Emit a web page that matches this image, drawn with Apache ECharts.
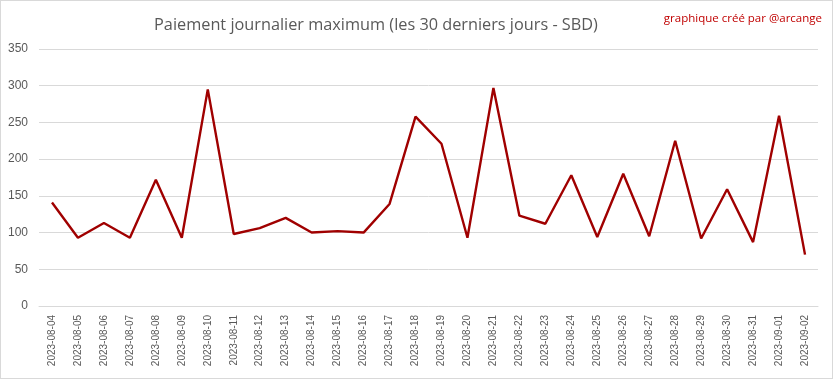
<!DOCTYPE html>
<html>
<head>
<meta charset="utf-8">
<script src="https://cdn.jsdelivr.net/npm/echarts@6/dist/echarts.min.js"></script>
<style>
html,body{margin:0;padding:0;background:#fff;}
#frame{position:absolute;left:0;top:0;width:831px;height:377px;border:1px solid #d9d9d9;}
#chart{position:absolute;left:0;top:0;width:833px;height:379px;}
</style>
</head>
<body>
<div id="frame"></div>
<div id="chart"></div>
<script>
const categories = ["2023-08-04","2023-08-05","2023-08-06","2023-08-07","2023-08-08","2023-08-09","2023-08-10","2023-08-11","2023-08-12","2023-08-13","2023-08-14","2023-08-15","2023-08-16","2023-08-17","2023-08-18","2023-08-19","2023-08-20","2023-08-21","2023-08-22","2023-08-23","2023-08-24","2023-08-25","2023-08-26","2023-08-27","2023-08-28","2023-08-29","2023-08-30","2023-08-31","2023-09-01","2023-09-02"];
const maxPayout = [141,93,113,93,172,93,295,98,106,120,100,102,100,139,258,221,93,297,123,112,178,94,180,95,225,92,159,87,259,70];
const titleText = "Paiement journalier maximum (les 30 derniers jours - SBD)";
const creditText = "graphique créé par @arcange";

const chart = echarts.init(document.getElementById('chart'), null, {renderer:'canvas'});
chart.setOption({
  animation:false,
  backgroundColor:'transparent',
  title:[{
    text:titleText, left:371, top:12, textAlign:'center',
    textStyle:{fontFamily:'"Open Sans", sans-serif', fontSize:16.3, fontWeight:'normal', color:'#595959'}
  },{
    text:creditText, right:6, top:8,
    textStyle:{fontFamily:'"Open Sans", sans-serif', fontSize:11.5, fontWeight:'normal', color:'#c00000'}
  }],
  grid:{left:39, right:15, top:49, bottom:73, containLabel:false},
  xAxis:{
    type:'category', data:categories, boundaryGap:true,
    axisLine:{lineStyle:{color:'#d9d9d9'}},
    axisTick:{show:false},
    axisLabel:{rotate:90, interval:0, margin:9, color:'#595959', fontFamily:'"Liberation Sans", Arial, sans-serif', fontSize:10}
  },
  yAxis:{
    type:'value', min:0, max:350, interval:50,
    axisLine:{show:false}, axisTick:{show:false},
    splitLine:{lineStyle:{color:'#d9d9d9'}},
    axisLabel:{color:'#595959', margin:11, fontFamily:'"Liberation Sans", Arial, sans-serif', fontSize:12}
  },
  series:[{
    type:'line', data:maxPayout, symbol:'none',
    lineStyle:{color:'#a00000', width:2.4}
  }]
});
</script>
</body>
</html>
